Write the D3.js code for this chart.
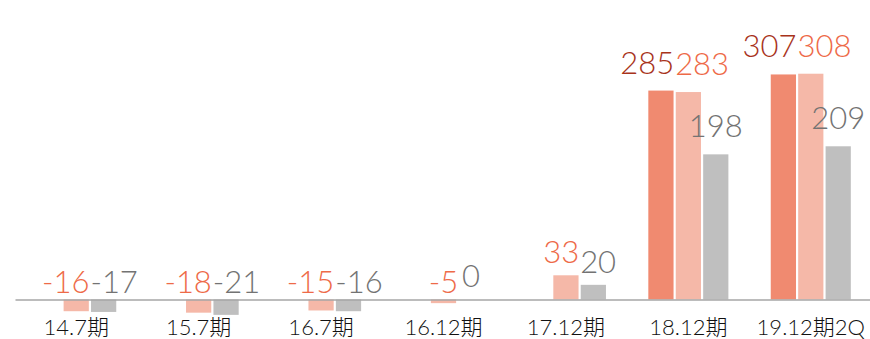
<!DOCTYPE html>
<html>
<head>
<meta charset="utf-8">
<script src="https://cdn.jsdelivr.net/npm/d3@7"></script>
<style>
  html, body { margin: 0; padding: 0; background: #fff; }
  svg { display: block; }
  text { font-family: "Lato", "Noto Sans CJK JP", sans-serif; }
</style>
</head>
<body>
<svg id="chart" width="870" height="339"></svg>
<script>
// Periods shown along the axis
const categories = ["14.7期", "15.7期", "16.7期", "16.12期", "17.12期", "18.12期", "19.12期2Q"];
// Three series per period (null = not reported)
const seriesA = [null, null, null, null, null, 285, 307];
const seriesB = [-16, -18, -15, -5, 33, 283, 308];
const seriesC = [-17, -21, -16, 0, 20, 198, 209];
const seriesKeys = ["A", "B", "C"];

const barColor = { A: "#F08A70", B: "#F5B8A8", C: "#BFBFBF" };
const labelColor = { A: "#A8331B", B: "#EE6A48", C: "#737373" };

const rows = categories.map((c, i) => ({
  cat: c,
  values: [
    { key: "A", value: seriesA[i] },
    { key: "B", value: seriesB[i] },
    { key: "C", value: seriesC[i] }
  ].filter(d => d.value !== null)
}));

const svg = d3.select("#chart");

const x = d3.scaleBand()
  .domain(categories)
  .range([15, 872])
  .paddingInner(0.346)
  .paddingOuter(0.173);

const x1 = d3.scaleBand()
  .domain(seriesKeys)
  .range([0, x.bandwidth()])
  .paddingInner(0.08);

const y = d3.scaleLinear()
  .domain([-40, 360])
  .range([328.8, 35.6]);

// Bars
const groups = svg.append("g").selectAll("g")
  .data(rows)
  .join("g")
  .attr("transform", d => `translate(${x(d.cat)},0)`);

groups.selectAll("rect")
  .data(d => d.values)
  .join("rect")
  .attr("x", d => x1(d.key))
  .attr("width", x1.bandwidth())
  .attr("y", d => y(Math.max(0, d.value)))
  .attr("height", d => Math.abs(y(d.value) - y(0)))
  .attr("fill", d => barColor[d.key]);

// Category axis along the zero line
const axis = svg.append("g")
  .attr("transform", `translate(0,${y(0)})`)
  .call(d3.axisBottom(x).tickSize(0).tickPadding(20));
axis.select(".domain")
  .attr("stroke", "#a6a6a6")
  .attr("stroke-width", 1.6);
axis.selectAll("text")
  .attr("font-family", "Lato, 'Noto Sans CJK JP', sans-serif")
  .attr("font-size", 22)
  .attr("font-weight", 300)
  .attr("fill", "#111");

// Value labels above each bar (or just above the axis for negatives)
const labelLayer = svg.append("g");
rows.forEach(row => {
  const gx = x(row.cat);
  const items = row.values.map(d => {
    const cx = gx + x1(d.key) + x1.bandwidth() / 2;
    const top = Math.min(y(d.value), y(0));
    const gap = d.value < 0 ? 6.5 : (d.value > 100 ? 17 : 12);
    const t = labelLayer.append("text")
      .attr("text-anchor", "middle")
      .attr("font-size", 31)
      .attr("font-weight", 300)
      .attr("fill", labelColor[d.key])
      .text(d.value);
    const w = t.node().getComputedTextLength();
    return { t, cx, base: top - gap, w };
  });
  // Spread neighbouring labels that sit at similar heights so they don't collide
  for (let pass = 0; pass < 4; pass++) {
    for (let i = 0; i < items.length - 1; i++) {
      const a = items[i], b = items[i + 1];
      if (Math.abs(a.base - b.base) > 20) continue;
      const need = (a.w + b.w) / 2 + 1;
      const have = b.cx - a.cx;
      if (have < need) {
        const push = (need - have) / 2;
        a.cx -= push;
        b.cx += push;
      }
    }
  }
  items.forEach(it => it.t.attr("x", it.cx).attr("y", it.base));
});
</script>
</body>
</html>
